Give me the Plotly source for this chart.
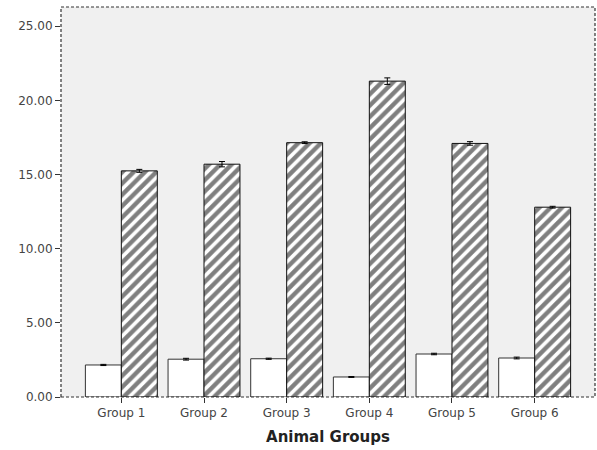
import plotly.graph_objects as go

groups = ["Group 1", "Group 2", "Group 3", "Group 4", "Group 5", "Group 6"]
control_vals = [2.16, 2.55, 2.58, 1.35, 2.90, 2.63]
control_err = [0.04, 0.06, 0.04, 0.03, 0.05, 0.06]
treated_vals = [15.25, 15.70, 17.15, 21.30, 17.10, 12.80]
treated_err = [0.10, 0.18, 0.06, 0.22, 0.12, 0.06]
y_ticks = [0, 5, 10, 15, 20, 25]

font_family = "DejaVu Sans, Liberation Sans, Arial"

fig = go.Figure()

fig.add_trace(go.Bar(
    x=groups, y=control_vals,
    marker=dict(color="white", line=dict(color="#333333", width=1)),
    error_y=dict(type="data", array=control_err, color="black", thickness=1, width=3),
    showlegend=False,
))

fig.add_trace(go.Bar(
    x=groups, y=treated_vals,
    marker=dict(
        color="white",
        line=dict(color="#111111", width=1),
        pattern=dict(shape="/", fgcolor="black", bgcolor="white", size=8, solidity=0.55),
    ),
    error_y=dict(type="data", array=treated_err, color="black", thickness=1, width=3),
    showlegend=False,
))

fig.update_layout(
    width=597, height=450,
    margin=dict(l=61, r=2, t=7, b=53),
    paper_bgcolor="white",
    plot_bgcolor="#f0f0f0",
    barmode="group",
    bargap=0.13,
    bargroupgap=0,
    font=dict(family=font_family, color="#444444", size=12),
    xaxis=dict(
        range=[-0.73, 5.73],
        showgrid=False, zeroline=False, showline=False,
        ticks="outside", ticklen=5, tickcolor="#333333",
        tickfont=dict(size=12, color="#444444"),
        title=dict(text="<b>Animal Groups</b>", font=dict(size=15, color="#222222"), standoff=12),
    ),
    yaxis=dict(
        range=[0, 26.3],
        tickvals=y_ticks,
        tickformat=".2f",
        showgrid=False, zeroline=False, showline=False,
        ticks="outside", ticklen=5, tickcolor="#333333",
        tickfont=dict(size=12, color="#444444"),
    ),
    shapes=[
        dict(type="rect", xref="paper", yref="paper", x0=0, x1=1, y0=0, y1=1,
             line=dict(color="#333333", width=1.2, dash="3px,2px"), layer="above"),
    ],
)

fig.write_html("out.html")
